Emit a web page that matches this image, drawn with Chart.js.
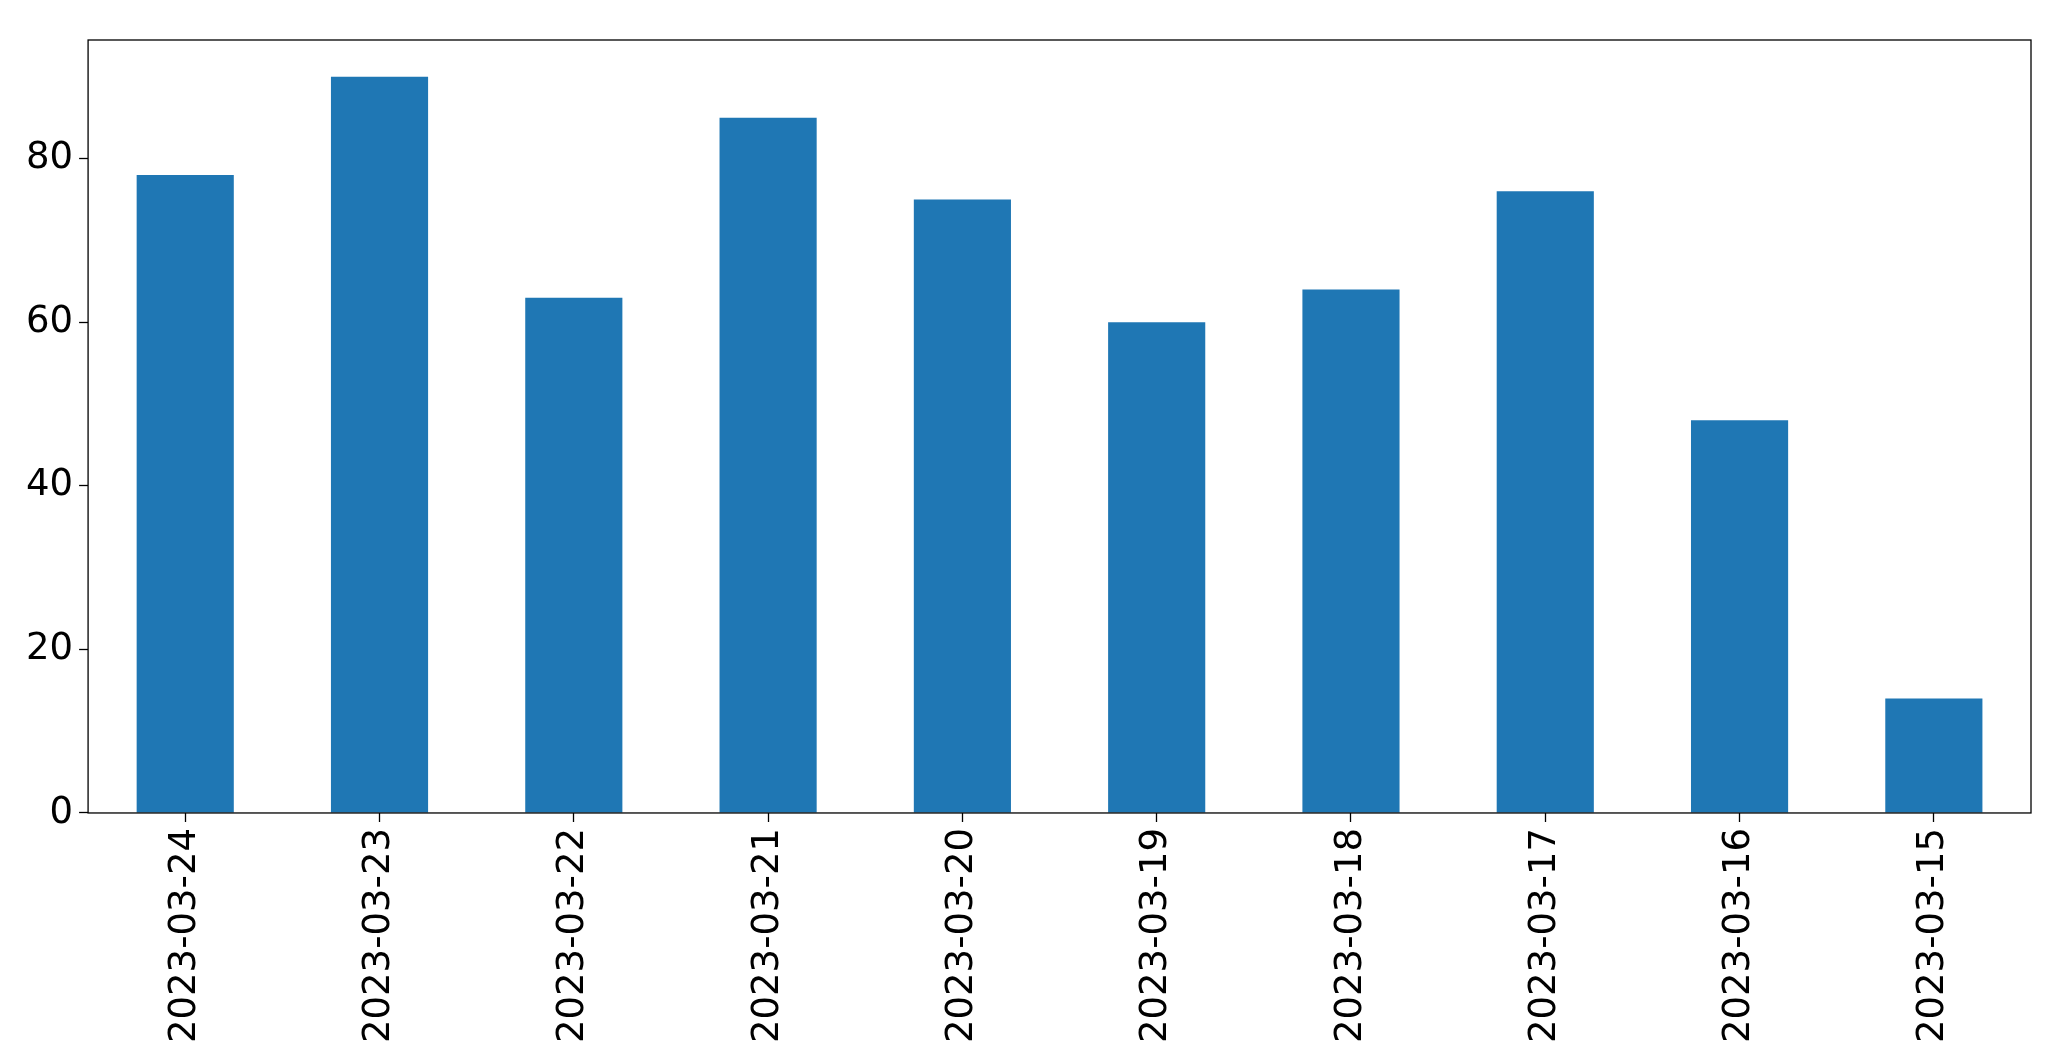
<!DOCTYPE html>
<html><head><meta charset="utf-8">
<script src="https://cdn.jsdelivr.net/npm/chart.js@4"></script>
<style>html,body{margin:0;padding:0;background:#fff}#w{width:2071px;height:1061px}</style>
</head><body><div id="w"><canvas id="c"></canvas></div>
<script>
const categories=["2023-03-24","2023-03-23","2023-03-22","2023-03-21","2023-03-20","2023-03-19","2023-03-18","2023-03-17","2023-03-16","2023-03-15"];
const values=[78,90,63,85,75,60,64,76,48,14];
const yTicks=[0,20,40,60,80];
const frame={id:'frame',afterDraw(ch){const a=ch.chartArea,x=ch.ctx;x.save();x.strokeStyle='#000';x.lineWidth=1.3;x.strokeRect(a.left,a.top,a.right-a.left,a.bottom-a.top);x.restore();}};
new Chart(document.getElementById('c'),{type:'bar',
data:{labels:categories,datasets:[{data:values,backgroundColor:'#1f77b4',categoryPercentage:1,barPercentage:0.5}]},
options:{responsive:true,maintainAspectRatio:false,animation:false,
layout:{padding:{top:40,right:40,left:20,bottom:12}},
plugins:{legend:{display:false},tooltip:{enabled:false}},
scales:{
x:{grid:{display:true,offset:false,drawOnChartArea:false,color:'#000',tickLength:9,tickWidth:1.3},border:{display:false},
ticks:{color:'#000',font:{family:'DejaVu Sans',size:37},maxRotation:90,minRotation:90,padding:6}},
y:{min:0,max:94.5,afterBuildTicks(s){s.ticks=yTicks.map(v=>({value:v}));},
grid:{display:true,drawOnChartArea:false,color:'#000',tickLength:9,tickWidth:1.3},border:{display:false},
ticks:{color:'#000',font:{family:'DejaVu Sans',size:37},padding:6}}}},
plugins:[frame]});
</script></body></html>
